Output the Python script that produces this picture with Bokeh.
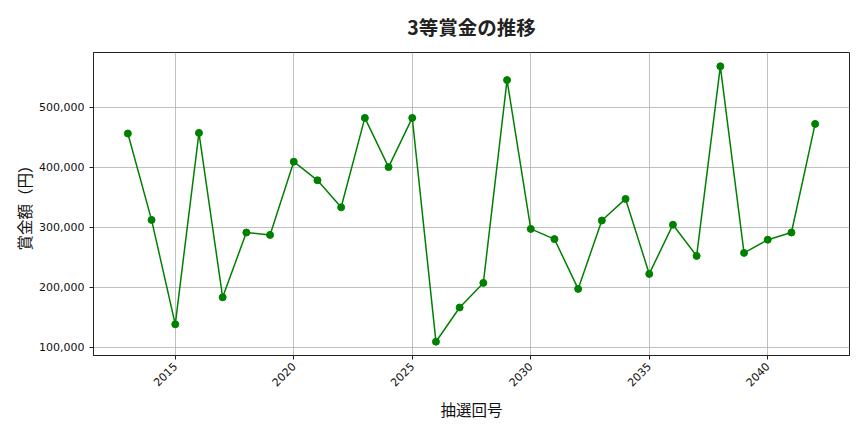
from bokeh.plotting import figure
from bokeh.models import Range1d, NumeralTickFormatter, FixedTicker
from bokeh.embed import file_html
from bokeh.resources import INLINE
import math

draws = list(range(2013, 2043))
prize = [456000, 312000, 138000, 457000, 183000, 291000, 287000, 409000, 378000, 333000,
         482000, 400000, 482000, 109000, 166000, 207000, 545000, 297000, 280000, 197000,
         311000, 347000, 222000, 304000, 252000, 568000, 257000, 279000, 291000, 472000]
x_ticks = [2015, 2020, 2025, 2030, 2035, 2040]
y_ticks = [100000, 200000, 300000, 400000, 500000]

FONT = "Noto Sans CJK JP"
TICK_FONT = "DejaVu Sans"

p = figure(width=856, height=424, output_backend="svg", toolbar_location=None,
           title="3等賞金の推移",
           x_range=Range1d(2011.55, 2043.45), y_range=Range1d(86000, 591000),
           min_border_left=93, min_border_right=7, min_border_top=52, min_border_bottom=69)

p.title.align = "center"
p.title.vertical_align = "top"
p.title.text_font = FONT
p.title.text_font_size = "19.5px"
p.title.text_font_style = "bold"
p.title.text_color = "#222222"
p.title.standoff = 20

p.line(draws, prize, line_color="#008000", line_width=1.5)
p.scatter(draws, prize, size=7, fill_color="#008000", line_color="#008000")

p.xaxis.ticker = FixedTicker(ticks=x_ticks)
p.yaxis.ticker = FixedTicker(ticks=y_ticks)
p.yaxis.formatter = NumeralTickFormatter(format="0,0")
p.xaxis.major_label_orientation = math.pi / 4

for ax in (p.xaxis, p.yaxis):
    ax.major_label_text_font = TICK_FONT
    ax.major_label_text_font_size = "11px"
    ax.major_label_text_color = "#111111"
    ax.axis_label_text_font = FONT
    ax.axis_label_text_font_size = "15.5px"
    ax.axis_label_text_font_style = "normal"
    ax.axis_label_text_color = "#111111"
    ax.major_tick_in = 0
    ax.major_tick_out = 4
    ax.minor_tick_in = 0
    ax.minor_tick_out = 0
    ax.axis_line_color = "#222222"
    ax.major_tick_line_color = "#222222"

p.xaxis.axis_label = "抽選回号"
p.yaxis.axis_label = "賞金額（円）"
p.yaxis.axis_label_standoff = 1
p.xaxis.axis_label_standoff = 5

p.xgrid.grid_line_color = "#b0b0b0"
p.ygrid.grid_line_color = "#b0b0b0"
p.xgrid.grid_line_width = 0.8
p.ygrid.grid_line_width = 0.8

p.outline_line_color = "#222222"
p.outline_line_alpha = 1.0
p.background_fill_color = "white"
p.border_fill_color = "white"

open("out.html", "w").write(file_html(p, INLINE))
